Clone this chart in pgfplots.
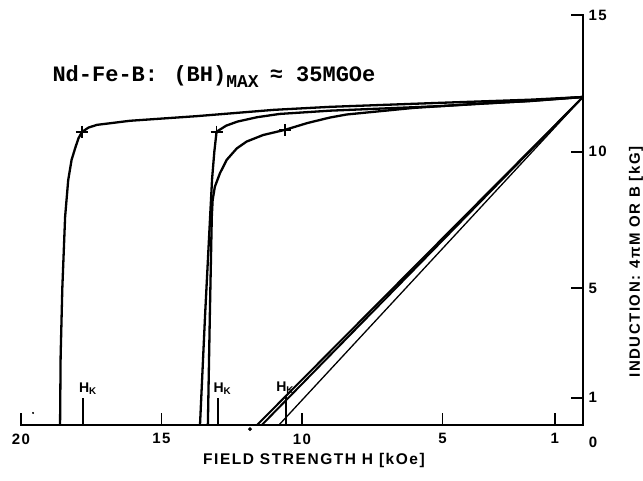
\documentclass[border=0pt]{standalone}
\usepackage{fontspec}
\setmainfont{Liberation Sans}
\newfontfamily\typewriter{Liberation Mono}
\newfontfamily\lettering{Liberation Sans}[LetterSpace=10]
\usepackage{pgfplots}
\pgfplotsset{compat=1.18}

\begin{document}
\begin{tikzpicture}[x=1pt,y=1pt]
\useasboundingbox (0,0) rectangle (643,480);
\begin{axis}[
  at={(21pt,55pt)}, anchor=south west,
  scale only axis, width=562pt, height=410pt,
  xmin=-20, xmax=0, ymin=0, ymax=15,
  axis x line*=bottom, axis y line*=right,
  axis line style={line width=2.2pt, line cap=rect},
  tick align=inside,
  major tick length=12pt,
  major tick style={black, line width=1.8pt},
  xtick={-20,-15,-10,-5,-1},
  xticklabels={20,15,10,5,1},
  ytick={1,5,10,15},
  yticklabels={1,5,10,15},
  tick label style={font=\lettering\bfseries\fontsize{15}{17}\selectfont},
  xticklabel style={yshift=-5pt},
  yticklabel style={xshift=2pt},
  clip=false,
]
% intrinsic demagnetization curves 4piM(H)
\addplot[line width=2.3pt, line join=round] coordinates {
  (0,12) (-1.9,11.9) (-5,11.79) (-9,11.64) (-11,11.53) (-13.74,11.3)
  (-16.12,11.13) (-17.3,10.98) (-17.6,10.88) (-17.83,10.72) (-17.95,10.5)
  (-18.05,10.2) (-18.2,9.7) (-18.32,8.96) (-18.43,7.62) (-18.53,5)
  (-18.59,2.5) (-18.61,0)};
\addplot[line width=2.3pt, line join=round] coordinates {
  (0,12) (-2,11.85) (-5,11.67) (-9,11.5) (-10.8,11.38) (-11.6,11.26)
  (-12.3,11.1) (-12.7,10.95) (-13.04,10.73) (-13.12,10.0) (-13.2,9.0)
  (-13.27,7.62) (-13.45,4) (-13.63,0)};
\addplot[line width=2.3pt, line join=round] coordinates {
  (0,12) (-1.89,11.85) (-3.67,11.76) (-6.04,11.6) (-8.41,11.36) (-9.0,11.25)
  (-9.8,11.05) (-10.6,10.8) (-11.38,10.61) (-11.97,10.37) (-12.32,10.12)
  (-12.68,9.7) (-12.92,9.21) (-13.1,8.72) (-13.18,8.23) (-13.21,7.62)
  (-13.28,4) (-13.35,0)};
% knee points
\addplot[only marks, mark=+, mark size=6pt, mark options={line width=1.7pt}]
  coordinates {(-17.83,10.72) (-13.04,10.73) (-10.6,10.8)};
% normal curves B(H)
\addplot[line width=2pt] coordinates {(0,12) (-11.60,0)};
\addplot[line width=2pt] coordinates {(0,12) (-11.43,0)};
\addplot[line width=1.3pt] coordinates {(0,12) (-10.82,0)};
% H_K markers
\addplot[line width=1.7pt] coordinates {(-17.8,0) (-17.8,1.0)};
\addplot[line width=1.7pt] coordinates {(-13.0,0) (-13.0,1.0)};
\addplot[line width=1.7pt] coordinates {(-10.57,0) (-10.57,1.1)};
\addplot[only marks, mark=*, mark size=1.8pt] coordinates {(-11.85,-0.15)};
\addplot[only marks, mark=*, mark size=0.8pt] coordinates {(-19.57,0.44)};
\node[font=\lettering\bfseries\fontsize{14}{16}\selectfont] at (axis cs:-17.62,1.32) {H\textsubscript{K}};
\node[font=\lettering\bfseries\fontsize{14}{16}\selectfont] at (axis cs:-12.83,1.32) {H\textsubscript{K}};
\node[font=\lettering\bfseries\fontsize{14}{16}\selectfont] at (axis cs:-10.6,1.36) {H\textsubscript{K}};
\end{axis}
\node[anchor=base west, font=\typewriter\bfseries\fontsize{22}{24}\selectfont]
  at (49,398) {Nd-Fe-B:\hspace{0.7em}(BH)\raisebox{-6pt}{\fontsize{18}{20}\selectfont MAX}\hspace{0.5em}≈ 35MGOe};
\node[font=\lettering\bfseries\fontsize{15}{17}\selectfont] at (593,38) {0};
\node[font=\lettering\bfseries\fontsize{15.5}{17}\selectfont] at (314,20) {FIELD STRENGTH H [kOe]};
\node[rotate=90, font=\lettering\bfseries\fontsize{15}{17}\selectfont] at (636,218) {INDUCTION:\hspace{0.5em}4πM OR B [kG]};
\end{tikzpicture}
\end{document}
